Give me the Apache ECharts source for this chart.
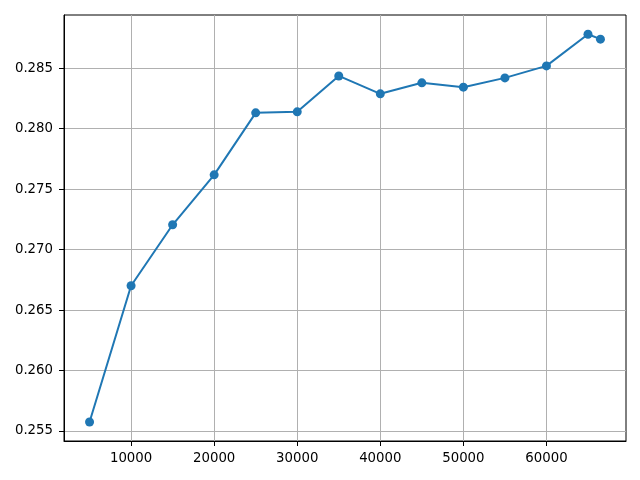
<!DOCTYPE html>
<html>
<head>
<meta charset="utf-8">
<script src="https://cdn.jsdelivr.net/npm/echarts@6/dist/echarts.min.js"></script>
<style>html,body{margin:0;padding:0;background:#fff;}#c{width:640px;height:480px;}</style>
</head>
<body>
<div id="c"></div>
<script>
const xValues = [5000, 10000, 15000, 20000, 25000, 30000, 35000, 40000, 45000, 50000, 55000, 60000, 65000, 66500];
const yValues = [0.25574, 0.26701, 0.27205, 0.27618, 0.28131, 0.28139, 0.28436, 0.28288, 0.28379, 0.28343, 0.2842, 0.28519, 0.28781, 0.2874];
const xTicks = [10000, 20000, 30000, 40000, 50000, 60000];
const yTicks = [0.255, 0.260, 0.265, 0.270, 0.275, 0.280, 0.285];

const chart = echarts.init(document.getElementById('c'), null, {renderer: 'canvas'});
const labelFont = {color: '#000', fontFamily: 'DejaVu Sans', fontSize: 13.3};
chart.setOption({
  animation: false,
  backgroundColor: '#fff',
  grid: {left: 64, right: 14, top: 15, bottom: 39, show: true, borderColor: '#000', borderWidth: 1, containLabel: false},
  xAxis: {
    type: 'value', min: 1925, max: 69575,
    axisLine: {show: true, onZero: false, lineStyle: {color: '#000', width: 1}},
    axisTick: {show: true, length: 5, customValues: xTicks, lineStyle: {color: '#000'}},
    axisLabel: Object.assign({customValues: xTicks, margin: 11, formatter: v => String(v)}, labelFont),
    splitLine: {show: true, lineStyle: {color: '#b0b0b0', width: 1}}
  },
  yAxis: {
    type: 'value', min: 0.25417, max: 0.2894,
    axisLine: {show: true, onZero: false, lineStyle: {color: '#000', width: 1}},
    axisTick: {show: true, length: 5, customValues: yTicks, lineStyle: {color: '#000'}},
    axisLabel: Object.assign({customValues: yTicks, margin: 11, formatter: v => v.toFixed(3)}, labelFont),
    splitLine: {show: true, lineStyle: {color: '#b0b0b0', width: 1}}
  },
  series: [{
    type: 'line',
    data: xValues.map((x, i) => [x, yValues[i]]),
    symbol: 'circle', symbolSize: 9,
    lineStyle: {color: '#1f77b4', width: 2},
    itemStyle: {color: '#1f77b4'}
  }]
});
</script>
</body>
</html>
